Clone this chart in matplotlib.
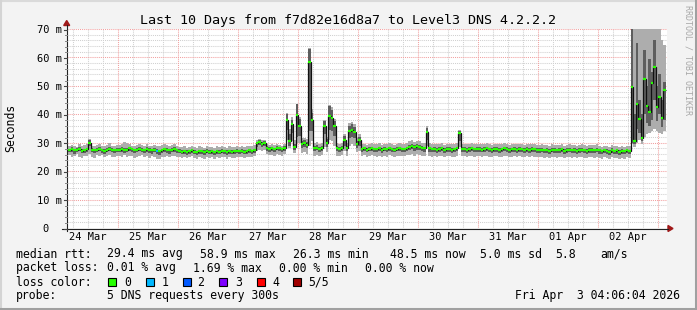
import matplotlib
matplotlib.use("Agg")
import matplotlib.pyplot as plt
from matplotlib.lines import Line2D
from matplotlib.patches import Rectangle, Polygon
import numpy as np

# ---------------- data ----------------
title = "Last 10 Days from f7d82e16d8a7 to Level3 DNS 4.2.2.2"
first_hour = 3          # first hourly sample, hours after 24 Mar 00:00
view_start = 3.6        # 24 Mar 03:36
view_end = 243.6        # 03 Apr 03:36
day_labels = ["24 Mar", "25 Mar", "26 Mar", "27 Mar", "28 Mar",
              "29 Mar", "30 Mar", "31 Mar", "01 Apr", "02 Apr"]
y_ticks = [0, 10, 20, 30, 40, 50, 60, 70]

median = [
    # 24 Mar (from 03h)
    27.6, 27.4, 27.8, 27.3, 27.5, 27.9, 27.2, 27.4, 27.7, 30.0, 27.6, 27.3, 27.5, 27.8, 27.4, 27.2, 27.6, 27.9, 27.5, 27.3, 27.6,
    # 25 Mar
    27.5, 27.8, 27.4, 27.6, 28.0, 27.7, 27.3, 27.5, 27.9, 27.6, 27.4, 27.8, 27.5, 27.3, 27.6, 27.2, 27.0, 27.4, 27.7, 27.5, 27.3, 27.6, 27.8, 27.4,
    # 26 Mar
    27.2, 26.9, 27.1, 26.8, 27.0, 27.3, 26.9, 26.7, 27.1, 27.0, 26.8, 27.2, 26.9, 27.0, 26.6, 27.1, 26.9, 27.2, 27.0, 26.8, 27.1, 26.9, 27.0, 27.2,
    # 27 Mar
    27.0, 27.2, 26.9, 27.1, 27.3, 27.0, 27.4, 29.8, 30.2, 29.6, 30.0, 28.2, 27.9, 28.1, 27.8, 28.3, 28.0, 27.7, 28.2, 38.0, 30.5, 36.5, 28.5, 39.7,
    # 28 Mar
    36.0, 29.5, 29.8, 29.3, 58.5, 38.0, 28.0, 28.3, 27.8, 28.1, 36.0, 30.0, 39.5, 38.8, 36.0, 28.0, 27.8, 28.2, 31.0, 28.0, 34.0, 34.3, 33.8, 29.5,
    # 29 Mar
    31.0, 27.8, 28.0, 27.6, 27.9, 28.1, 27.7, 27.8, 28.0, 27.5, 27.9, 27.7, 28.1, 27.8, 27.6, 27.9, 28.0, 27.7, 27.8, 28.1, 28.6, 28.9, 28.4, 28.8,
    # 30 Mar
    28.6, 28.2, 28.0, 33.8, 28.0, 27.7, 27.9, 27.6, 27.8, 28.0, 27.5, 27.8, 27.9, 27.6, 27.7, 28.0, 33.4, 27.8, 27.9, 27.6, 27.8, 28.0, 27.7, 27.9,
    # 31 Mar
    27.8, 27.6, 27.9, 28.0, 27.7, 27.5, 27.8, 27.9, 27.6, 27.7, 28.0, 27.8, 27.5, 27.7, 27.9, 27.6, 27.8, 27.7, 27.5, 27.9, 27.6, 27.8, 27.7, 27.5,
    # 01 Apr
    27.4, 27.6, 27.3, 27.5, 27.2, 27.6, 27.4, 27.3, 27.5, 27.7, 27.2, 27.4, 27.6, 27.3, 27.5, 27.1, 27.4, 27.6, 27.3, 27.2, 27.5, 27.4, 27.3, 27.6,
    # 02 Apr
    27.3, 27.0, 27.4, 27.2, 26.9, 27.5, 27.1, 27.3, 26.8, 27.2, 27.0, 27.4, 27.1, 49.7, 30.7, 43.6, 38.3, 31.8, 52.4, 42.9, 40.9, 51.0, 56.7, 42.7,
    # 03 Apr
    46.2, 38.7, 48.5,
]

smoke_lo = [
    25.2, 25.6, 24.8, 25.4, 25.9, 25.1, 24.6, 25.5, 25.3, 26.0, 25.0, 24.7, 25.6, 25.2, 25.8, 24.9, 25.4, 25.7, 25.1, 24.8, 25.5,
    25.3, 25.0, 25.6, 24.9, 25.2, 25.5, 24.7, 25.1, 25.4, 25.8, 25.0, 25.3, 24.6, 25.2, 24.9, 24.4, 24.2, 24.8, 25.1, 25.3, 24.9, 25.5, 25.2, 25.0,
    24.9, 24.6, 25.0, 24.5, 24.8, 25.2, 24.7, 24.3, 24.9, 24.6, 24.4, 25.0, 24.7, 24.8, 24.2, 24.9, 24.5, 25.0, 24.8, 24.4, 24.9, 24.6, 24.7, 25.0,
    24.8, 25.0, 24.6, 24.9, 25.1, 24.8, 25.2, 27.0, 27.5, 27.2, 27.4, 25.9, 25.6, 25.8, 25.5, 26.0, 25.7, 25.4, 25.9, 31.0, 28.0, 30.5, 26.5, 30.0,
    30.0, 26.5, 26.8, 26.2, 29.0, 30.5, 25.5, 25.8, 25.3, 25.6, 28.5, 26.8, 31.0, 30.5, 29.0, 25.5, 25.2, 25.7, 27.0, 25.5, 29.0, 29.5, 28.8, 26.8,
    27.0, 25.3, 25.6, 25.1, 25.4, 25.7, 25.2, 25.0, 25.5, 24.9, 25.4, 25.1, 25.6, 25.3, 25.0, 25.4, 25.5, 25.2, 25.3, 25.6, 25.8, 26.1, 25.5, 25.9,
    25.8, 25.5, 25.3, 29.0, 25.4, 25.0, 25.3, 25.0, 25.2, 25.5, 24.9, 25.2, 25.4, 25.0, 25.1, 25.5, 28.5, 25.2, 25.3, 25.0, 25.2, 25.4, 25.1, 25.3,
    25.2, 25.0, 25.3, 25.4, 25.1, 24.9, 25.2, 25.3, 25.0, 25.1, 25.4, 25.2, 24.9, 25.1, 25.3, 25.0, 25.2, 25.1, 24.9, 25.3, 25.0, 25.2, 25.1, 24.9,
    24.8, 25.0, 24.7, 24.9, 24.6, 25.0, 24.8, 24.7, 24.9, 25.1, 24.6, 24.8, 25.0, 24.7, 24.9, 24.5, 24.8, 25.0, 24.7, 24.6, 24.9, 24.8, 24.7, 25.0,
    24.7, 24.4, 24.8, 24.6, 24.3, 24.9, 24.5, 24.7, 24.2, 24.6, 24.4, 24.8, 24.5, 29.5, 28.5, 30.0, 31.0, 29.5, 32.0, 33.0, 33.5, 34.0, 35.0, 34.0,
    33.5, 33.0, 34.0,
]

smoke_hi = [
    29.0, 28.7, 29.3, 28.9, 28.6, 29.5, 28.8, 29.1, 29.4, 31.3, 29.0, 28.8, 29.2, 29.6, 28.9, 28.7, 29.3, 29.8, 29.0, 28.8, 29.1,
    29.2, 29.5, 30.3, 30.0, 29.6, 29.0, 28.8, 29.3, 29.7, 29.1, 28.9, 29.4, 29.0, 28.8, 29.2, 29.0, 28.7, 29.1, 29.5, 29.2, 28.9, 29.3, 29.6, 29.0,
    28.6, 28.4, 28.8, 28.3, 28.5, 28.9, 28.4, 28.2, 28.7, 28.5, 28.3, 28.8, 28.4, 28.6, 28.1, 28.7, 28.4, 28.8, 28.5, 28.3, 28.7, 28.4, 28.6, 28.8,
    28.6, 28.9, 28.5, 28.8, 29.0, 28.7, 29.2, 31.0, 31.3, 30.8, 31.1, 29.5, 29.2, 29.4, 29.1, 29.6, 29.3, 29.0, 29.5, 40.5, 35.0, 39.0, 31.0, 43.6,
    39.0, 31.5, 31.8, 31.2, 63.3, 42.0, 29.8, 30.1, 29.5, 29.9, 38.0, 32.0, 43.4, 42.5, 38.5, 29.8, 29.6, 30.0, 33.0, 29.8, 37.0, 37.2, 36.5, 31.5,
    33.0, 29.5, 29.7, 29.3, 29.6, 29.9, 29.4, 29.5, 29.8, 29.2, 29.6, 29.4, 29.9, 29.5, 29.3, 29.6, 29.8, 29.4, 29.5, 29.9, 30.5, 30.8, 30.2, 30.6,
    30.5, 30.0, 29.8, 36.0, 29.8, 29.5, 29.7, 29.4, 29.6, 29.8, 29.3, 29.6, 29.7, 29.4, 29.5, 29.8, 34.5, 29.6, 29.7, 29.4, 29.6, 29.8, 29.5, 29.7,
    29.6, 29.4, 29.7, 29.8, 29.5, 29.3, 29.6, 29.7, 29.4, 29.5, 29.8, 29.6, 29.3, 29.5, 29.7, 29.4, 29.6, 29.5, 29.3, 29.7, 29.4, 29.6, 29.5, 29.3,
    29.2, 29.4, 29.1, 29.3, 29.0, 29.4, 29.2, 29.1, 29.3, 29.5, 29.0, 29.2, 29.4, 29.1, 29.3, 28.9, 29.2, 29.4, 29.1, 29.0, 29.3, 29.2, 29.1, 29.4,
    28.9, 28.6, 29.0, 28.8, 28.5, 29.1, 28.7, 28.9, 28.4, 28.8, 28.6, 29.0, 28.7, 76.0, 76.0, 76.0, 76.0, 76.0, 76.0, 76.0, 76.0, 76.0, 76.0, 76.0,
    76.0, 66.0, 64.4,
]

core_lo = [
    26.7, 26.6, 26.9, 26.2, 26.8, 27.0, 26.3, 26.5, 26.9, 28.8, 26.7, 26.4, 26.6, 27.0, 26.5, 26.2, 26.8, 27.0, 26.6, 26.5, 26.7,
    26.6, 26.9, 26.5, 26.7, 27.0, 26.8, 26.3, 26.6, 27.0, 26.7, 26.4, 26.9, 26.5, 26.2, 26.7, 26.0, 25.6, 26.4, 26.8, 26.5, 26.2, 26.7, 26.9, 26.5,
    26.3, 26.0, 26.2, 25.8, 26.1, 26.4, 25.9, 25.7, 26.2, 26.0, 25.8, 26.3, 25.9, 26.1, 25.6, 26.2, 25.9, 26.3, 26.0, 25.8, 26.2, 25.9, 26.0, 26.3,
    26.1, 26.3, 25.9, 26.2, 26.4, 26.0, 26.5, 28.6, 29.1, 28.5, 28.9, 27.2, 26.9, 27.1, 26.8, 27.3, 27.0, 26.7, 27.2, 34.5, 29.0, 33.5, 27.5, 32.0,
    32.5, 28.2, 28.5, 28.0, 34.0, 34.0, 27.0, 27.3, 26.8, 27.1, 33.0, 28.5, 34.5, 34.0, 32.5, 27.0, 26.8, 27.2, 29.0, 27.0, 31.5, 32.0, 31.5, 28.2,
    29.0, 26.9, 27.1, 26.6, 27.0, 27.2, 26.7, 26.8, 27.1, 26.5, 27.0, 26.7, 27.2, 26.9, 26.6, 27.0, 27.1, 26.7, 26.9, 27.2, 27.4, 27.7, 27.2, 27.6,
    27.4, 27.0, 26.9, 31.0, 26.9, 26.6, 26.9, 26.5, 26.8, 27.0, 26.4, 26.8, 26.9, 26.5, 26.7, 27.0, 30.5, 26.8, 26.9, 26.5, 26.8, 27.0, 26.6, 26.9,
    26.8, 26.6, 26.9, 27.0, 26.7, 26.4, 26.8, 26.9, 26.5, 26.7, 27.0, 26.8, 26.4, 26.7, 26.9, 26.5, 26.8, 26.7, 26.4, 26.9, 26.5, 26.8, 26.7, 26.4,
    26.4, 26.6, 26.3, 26.5, 26.2, 26.6, 26.4, 26.3, 26.5, 26.7, 26.1, 26.4, 26.6, 26.3, 26.5, 26.0, 26.4, 26.6, 26.3, 26.2, 26.5, 26.4, 26.3, 26.6,
    26.2, 25.9, 26.3, 26.1, 25.8, 26.4, 26.0, 26.2, 25.7, 26.1, 25.9, 26.3, 26.0, 30.0, 29.5, 35.0, 33.5, 30.5, 40.0, 37.0, 36.0, 38.0, 45.0, 37.5,
    40.0, 35.5, 38.0,
]

core_hi = [
    28.1, 27.9, 28.4, 27.8, 28.0, 28.5, 27.7, 27.9, 28.2, 30.8, 28.1, 27.8, 28.0, 28.4, 27.9, 27.7, 28.1, 28.5, 28.0, 27.8, 28.1,
    28.0, 28.4, 28.0, 28.1, 28.6, 28.2, 27.8, 28.0, 28.5, 28.1, 27.9, 28.4, 28.0, 27.8, 28.1, 27.7, 27.5, 27.9, 28.3, 28.0, 27.8, 28.1, 28.4, 27.9,
    27.7, 27.4, 27.6, 27.3, 27.5, 27.8, 27.4, 27.2, 27.6, 27.5, 27.3, 27.7, 27.4, 27.5, 27.1, 27.6, 27.4, 27.7, 27.5, 27.3, 27.6, 27.4, 27.5, 27.7,
    27.5, 27.7, 27.4, 27.6, 27.8, 27.5, 27.9, 30.4, 30.8, 30.2, 30.6, 28.7, 28.4, 28.6, 28.3, 28.8, 28.5, 28.2, 28.7, 40.2, 33.0, 38.0, 29.5, 43.5,
    38.5, 30.6, 31.0, 30.4, 63.0, 40.5, 28.8, 29.1, 28.5, 28.9, 37.5, 31.2, 43.0, 41.5, 37.5, 28.8, 28.6, 29.0, 32.2, 28.8, 36.0, 36.5, 35.5, 30.6,
    32.0, 28.3, 28.5, 28.1, 28.4, 28.6, 28.2, 28.3, 28.5, 28.0, 28.4, 28.2, 28.6, 28.3, 28.1, 28.4, 28.5, 28.2, 28.3, 28.6, 29.3, 29.6, 29.1, 29.5,
    29.3, 28.8, 28.6, 35.2, 28.6, 28.3, 28.5, 28.2, 28.4, 28.6, 28.1, 28.4, 28.5, 28.2, 28.3, 28.6, 34.0, 28.4, 28.5, 28.2, 28.4, 28.6, 28.3, 28.5,
    28.4, 28.2, 28.5, 28.6, 28.3, 28.1, 28.4, 28.5, 28.2, 28.3, 28.6, 28.4, 28.1, 28.3, 28.5, 28.2, 28.4, 28.3, 28.1, 28.5, 28.2, 28.4, 28.3, 28.1,
    28.0, 28.2, 27.9, 28.1, 27.8, 28.2, 28.0, 27.9, 28.1, 28.3, 27.8, 28.0, 28.2, 27.9, 28.1, 27.7, 28.0, 28.2, 27.9, 27.8, 28.1, 28.0, 27.9, 28.2,
    27.8, 27.5, 27.9, 27.7, 27.4, 28.0, 27.6, 27.8, 27.3, 27.7, 27.5, 27.9, 27.6, 70.5, 40.0, 65.0, 45.0, 40.0, 62.6, 50.0, 59.3, 55.0, 66.0, 50.0,
    54.0, 45.0, 51.5,
]

loss_hours = [39]        # hours (after 24 Mar 00:00) with packet loss
loss_levels = [1]        # loss colour index for those hours

loss_names = ["0", "1", "2", "3", "4", "5/5"]
loss_colors = ["#26ff00", "#00b8ff", "#0059ff", "#7e00ff", "#ff0000", "#a00000"]

stats_rtt = ["29.4 ms avg", "58.9 ms max", "26.3 ms min", "48.5 ms now", "5.0 ms sd", "5.8", "am/s"]
stats_loss = ["0.01 % avg", "1.69 % max", "0.00 % min", "0.00 % now"]
probe_text = "5 DNS requests every 300s"
stamp_text = "Fri Apr  3 04:06:04 2026"

# ---------------- drawing ----------------
W, H = 697, 310
MONO = "DejaVu Sans Mono"
plt.rcParams["font.family"] = MONO

fig = plt.figure(figsize=(W / 100, H / 100), dpi=100)
fig.patch.set_facecolor("#f3f3f3")


def fx(px):
    return px / W


def fy(py):
    return 1 - py / H


# plot area: x 67..667, y 29 (70 m) .. 228 (0)
ax = fig.add_axes([fx(67), fy(228), 600 / W, 199 / H])
ax.set_facecolor("white")
for s in ax.spines.values():
    s.set_visible(False)
ax.set_xticks([])
ax.set_yticks([])
ax.set_xlim(view_start, view_end)
ax.set_ylim(0, 70)

minor_c = "#d0d0d0"
major_c = "#f2a0a0"
dot = (0, (1, 1))
# minor grid
for v in range(2, 70, 2):
    if v % 10:
        ax.axhline(v, color=minor_c, lw=0.75, ls=dot, zorder=0)
for h in range(6, 246, 6):
    if h % 24:
        ax.axvline(h, color=minor_c, lw=0.75, ls=dot, zorder=0)
# major grid
for v in range(10, 80, 10):
    ax.axhline(v, color=major_c, lw=0.75, ls=dot, zorder=0.5)
for h in range(24, 246, 24):
    ax.axvline(h, color=major_c, lw=0.75, ls=dot, zorder=0.5)

n = min(len(median), len(smoke_lo), len(smoke_hi), len(core_lo), len(core_hi))
med = np.array(median[:n])
lo = np.array(smoke_lo[:n])
hi = np.array(smoke_hi[:n])
clo = np.array(core_lo[:n])
chi = np.array(core_hi[:n])
hours = first_hour + np.arange(n)
edges = first_hour + np.arange(n + 1)

ax.stairs(hi, edges, baseline=lo, fill=True, color="#adadad", lw=0, zorder=2)
ax.stairs(chi, edges, baseline=clo, fill=True, color="#5e5e5e", lw=0, zorder=3)
ax.stairs(med, edges, baseline=None, color="#111111", lw=0.9, zorder=4)

seg_colors = [loss_colors[0]] * n
for hh, lv in zip(loss_hours, loss_levels):
    i = hh - first_hour
    if 0 <= i < n:
        seg_colors[i] = loss_colors[lv]
ax.hlines(med, hours, hours + 1, colors=seg_colors, lw=1.6, zorder=5,
          capstyle="butt")

# axes lines and arrows
axis_c = "#222222"
arrow_c = "#a01818"
fig.add_artist(Line2D([fx(62), fx(668)], [fy(228.5), fy(228.5)],
                      color=axis_c, lw=0.8, transform=fig.transFigure))
fig.add_artist(Line2D([fx(66.7), fx(66.7)], [fy(231), fy(25)],
                      color=axis_c, lw=0.8, transform=fig.transFigure))
fig.add_artist(Polygon([(fx(668), fy(225.5)), (fx(673), fy(228.5)), (fx(668), fy(231.5))],
                       closed=True, color=arrow_c, transform=fig.transFigure))
fig.add_artist(Polygon([(fx(63.7), fy(25.5)), (fx(69.7), fy(25.5)), (fx(66.7), fy(20.5))],
                       closed=True, color=arrow_c, transform=fig.transFigure))

# y ticks
y_px = lambda v: 228.5 - v * 199 / 70
for v in range(0, 71, 2):
    yy = y_px(v)
    if v % 10 == 0:
        fig.add_artist(Line2D([fx(63.5), fx(66.7)], [fy(yy), fy(yy)], color="#444444",
                              lw=0.8, transform=fig.transFigure))
    else:
        fig.add_artist(Line2D([fx(65), fx(66.7)], [fy(yy), fy(yy)], color="#888888",
                              lw=0.7, transform=fig.transFigure))
for v in y_ticks:
    lab = f"{v} m" if v else "0"
    xr = 61.5 if v else 48.5
    fig.text(fx(xr), fy(y_px(v) + 3.6), lab, ha="right", va="baseline",
             fontsize=7.5, family=MONO, color="black")

# x labels at noon
for d, lab in enumerate(day_labels):
    hnoon = 12 + 24 * d
    px = 67 + (hnoon - view_start) * 600 / (view_end - view_start)
    fig.text(fx(px), fy(240.5), lab, ha="center", va="baseline", fontsize=7.5, family=MONO)

# title, axis label, watermark
fig.text(fx(348), fy(24), title, ha="center", va="baseline", fontsize=9.6, family=MONO)
fig.text(fx(11), fy(127.5), "Seconds", rotation=90, ha="center", va="center",
         fontsize=8.3, family=MONO)
fig.text(fx(688), fy(60), "RRDTOOL / TOBI OETIKER", rotation=270, ha="center", va="center",
         fontsize=6, family=MONO, color="#a8a8a8")

# legend
LF = 8.3
rows = [257.5, 271.5, 285.5, 299.5]
fig.text(fx(16), fy(rows[0]), "median rtt:", fontsize=LF, va="baseline", family=MONO)
for x0, t in zip([107, 200, 293, 390, 480, 555, 600], stats_rtt):
    fig.text(fx(x0), fy(rows[0]), t, fontsize=LF, va="baseline", family=MONO)
fig.text(fx(16), fy(rows[1]), "packet loss:", fontsize=LF, va="baseline", family=MONO)
for x0, t in zip([107, 192.7, 279, 365], stats_loss):
    fig.text(fx(x0), fy(rows[1]), t, fontsize=LF, va="baseline", family=MONO)
fig.text(fx(16), fy(rows[2]), "loss color:", fontsize=LF, va="baseline", family=MONO)
for bx, tx, name, col in zip([108, 146, 183, 219, 257, 293], [124, 162, 197, 235, 272, 308],
                             loss_names, loss_colors):
    fig.add_artist(Rectangle((fx(bx), fy(285.5)), 7.5 / W, 7.5 / H, facecolor=col,
                             edgecolor="black", lw=0.8, transform=fig.transFigure))
    fig.text(fx(tx), fy(rows[2]), name, fontsize=LF, va="baseline", family=MONO)
fig.text(fx(16), fy(rows[3]), "probe:", fontsize=LF, va="baseline", family=MONO)
fig.text(fx(107), fy(rows[3]), probe_text, fontsize=LF, va="baseline", family=MONO)
fig.text(fx(680), fy(rows[3]), stamp_text, fontsize=LF, va="baseline", ha="right", family=MONO)

# outer frame (light top/left, dark bottom/right)
fig.add_artist(Line2D([0, 1], [fy(1), fy(1)], color="#dadada", lw=1.5, transform=fig.transFigure))
fig.add_artist(Line2D([fx(1), fx(1)], [0, 1], color="#d4d4d4", lw=1.5, transform=fig.transFigure))
fig.add_artist(Line2D([0, 1], [fy(308.5), fy(308.5)], color="#a0a0a0", lw=2.2, transform=fig.transFigure))
fig.add_artist(Line2D([fx(695.5), fx(695.5)], [0, 1], color="#a0a0a0", lw=2.2, transform=fig.transFigure))

fig.savefig("out.png", dpi=100, facecolor=fig.get_facecolor())
